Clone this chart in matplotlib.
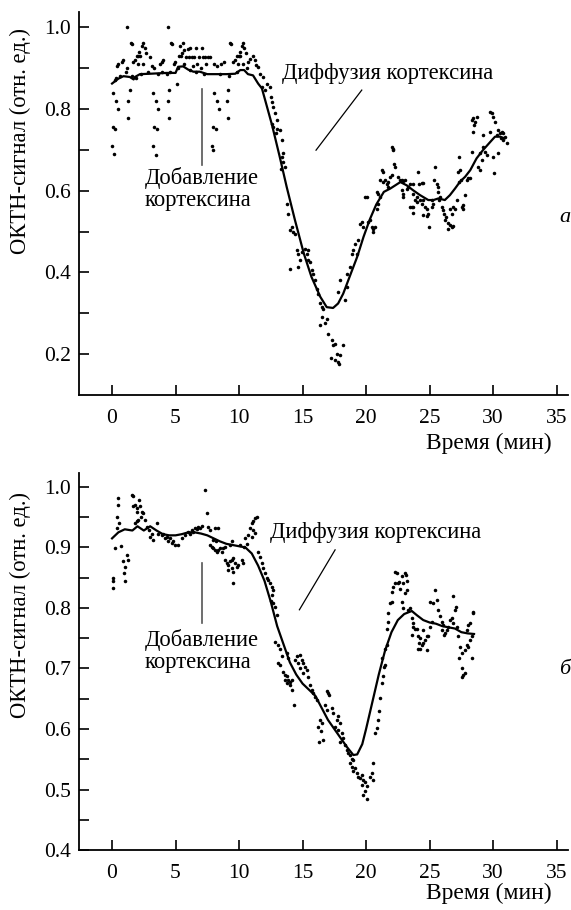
import numpy as np
import matplotlib
matplotlib.use("Agg")
import matplotlib.pyplot as plt

plt.rcParams['font.family'] = ['Liberation Serif', 'DejaVu Serif']

# ---- panel a: dots (time, min ; signal) ----
a_dots_plateau = [
    (0.0, 0.71), (0.15, 0.69), (0.05, 0.755), (0.25, 0.75), (0.1, 0.84), (0.3, 0.82), (0.5, 0.80),
    (0.4, 0.905), (0.5, 0.91), (0.75, 0.915), (0.9, 0.92), (0.6, 0.88), (0.2, 0.87), (0.35, 0.875),
    (1.15, 1.0), (1.28, 0.778), (1.26, 0.82), (1.4, 0.846), (1.47, 0.96), (1.55, 0.958), (1.68, 0.914),
    (1.8, 0.92), (1.1, 0.89), (1.2, 0.9), (1.6, 0.88),
    (1.95, 0.93), (2.08, 0.93), (2.2, 0.93), (2.16, 0.94), (2.34, 0.953), (2.4, 0.962), (2.6, 0.948),
    (2.7, 0.937), (2.08, 0.91), (2.47, 0.91), (1.9, 0.875), (2.3, 0.885), (2.8, 0.89),
    (3.0, 0.927), (3.13, 0.905), (3.3, 0.9), (3.25, 0.84), (3.47, 0.82), (3.65, 0.80), (3.3, 0.756),
    (3.5, 0.75), (3.25, 0.71), (3.45, 0.686), (3.74, 0.91), (3.9, 0.915), (4.0, 0.92), (3.6, 0.885), (3.9, 0.89),
    (4.38, 1.0), (4.45, 0.778), (4.4, 0.82), (4.5, 0.846), (4.66, 0.96), (4.74, 0.958), (4.84, 0.91),
    (4.97, 0.915), (4.3, 0.885), (4.6, 0.89), (5.14, 0.862),
    (5.26, 0.93), (5.4, 0.93), (5.5, 0.937), (5.63, 0.945), (5.58, 0.96), (5.37, 0.953), (5.84, 0.927),
    (6.03, 0.927), (5.95, 0.946), (6.16, 0.948), (5.2, 0.9), (5.7, 0.91), (6.1, 0.895),
    (6.29, 0.927), (6.47, 0.927), (6.63, 0.948), (6.82, 0.927), (7.08, 0.948), (7.16, 0.927), (7.34, 0.927),
    (7.53, 0.927), (7.74, 0.927), (6.4, 0.905), (6.7, 0.91), (7.0, 0.9), (7.4, 0.91), (6.6, 0.89), (7.2, 0.885),
    (8.06, 0.84), (8.24, 0.82), (8.43, 0.80), (7.98, 0.756), (8.19, 0.75), (7.9, 0.71), (7.95, 0.70),
    (8.0, 0.91), (8.3, 0.905), (8.6, 0.91), (8.8, 0.915), (8.5, 0.885),
    (9.1, 0.778), (9.15, 0.846), (9.07, 0.82), (9.3, 0.96), (9.4, 0.958), (9.5, 0.914), (9.7, 0.92), (9.2, 0.88),
    (9.85, 0.93), (10.0, 0.93), (10.1, 0.93), (10.05, 0.94), (10.2, 0.953), (10.3, 0.962), (10.4, 0.948),
    (10.55, 0.937), (9.9, 0.91), (10.3, 0.91), (9.8, 0.89), (10.6, 0.9),
]
a_dots_drop = [
    (10.74, 0.915), (10.87, 0.923), (11.08, 0.929), (11.26, 0.919), (11.34, 0.907), (11.52, 0.903),
    (11.65, 0.886), (11.92, 0.878), (11.79, 0.854), (12.05, 0.846), (12.18, 0.862), (12.44, 0.854),
    (12.49, 0.829), (12.57, 0.817), (12.7, 0.805), (12.84, 0.789), (12.97, 0.772), (12.57, 0.764),
    (12.7, 0.756), (13.02, 0.752), (13.23, 0.748), (12.91, 0.74), (13.36, 0.723), (13.49, 0.691),
    (13.36, 0.683), (13.44, 0.67), (13.62, 0.658), (13.28, 0.654), (13.75, 0.568), (13.89, 0.544),
    (14.02, 0.503), (14.23, 0.499), (14.15, 0.511), (14.41, 0.495), (14.54, 0.454), (14.67, 0.446),
    (14.94, 0.45), (15.2, 0.458), (15.33, 0.446), (15.46, 0.454), (14.8, 0.43), (14.67, 0.413),
    (14.02, 0.409), (15.46, 0.43), (15.59, 0.426), (15.72, 0.405), (15.85, 0.397), (15.99, 0.381),
    (16.12, 0.36), (16.25, 0.348), (16.38, 0.324), (16.51, 0.315), (16.64, 0.311), (16.51, 0.291),
    (16.38, 0.271), (16.77, 0.275), (16.9, 0.287), (17.04, 0.25), (17.3, 0.234), (17.43, 0.222),
    (17.56, 0.226), (17.69, 0.201), (17.95, 0.197), (17.82, 0.18), (17.56, 0.185), (17.9, 0.175),
    (17.2, 0.19), (18.22, 0.222), (17.82, 0.352), (17.95, 0.381), (18.48, 0.364), (18.35, 0.332),
    (18.53, 0.397), (18.74, 0.413), (18.87, 0.446), (19.0, 0.454), (19.14, 0.47), (19.27, 0.446),
    (19.4, 0.479), (19.53, 0.519), (19.66, 0.523), (19.79, 0.511), (19.92, 0.585), (20.05, 0.585),
    (20.18, 0.523), (20.32, 0.528),
]
a_dots_recovery = [
    (20.44, 0.511), (20.57, 0.507), (20.7, 0.511), (20.57, 0.5), (20.83, 0.556), (20.97, 0.568),
    (21.1, 0.585), (20.89, 0.597), (20.97, 0.593), (21.23, 0.65), (21.36, 0.646), (21.1, 0.626),
    (21.3, 0.622), (21.49, 0.626), (21.62, 0.617), (21.75, 0.622), (21.75, 0.609), (21.88, 0.634),
    (22.02, 0.638), (22.02, 0.707), (22.1, 0.703), (22.15, 0.699), (22.2, 0.666), (22.28, 0.658),
    (22.54, 0.634), (22.67, 0.626), (22.8, 0.626), (22.93, 0.624), (23.07, 0.626), (22.8, 0.601),
    (22.93, 0.593), (22.88, 0.585), (23.2, 0.605), (23.33, 0.609), (23.46, 0.617), (23.67, 0.617),
    (23.72, 0.593), (23.98, 0.585), (24.1, 0.646), (24.2, 0.617), (24.38, 0.619), (24.5, 0.619),
    (23.85, 0.577), (23.98, 0.573), (23.72, 0.56), (23.59, 0.56), (23.46, 0.56), (23.72, 0.546),
    (24.25, 0.577), (24.38, 0.568), (24.5, 0.577), (24.64, 0.56), (24.77, 0.556), (24.5, 0.54),
    (24.77, 0.538), (24.9, 0.544), (24.98, 0.511), (25.17, 0.56), (25.3, 0.568), (25.17, 0.577),
    (25.43, 0.658), (25.35, 0.626), (25.56, 0.617), (25.69, 0.609), (25.69, 0.597), (25.82, 0.585),
    (25.77, 0.577), (25.95, 0.56), (26.08, 0.552), (26.14, 0.544), (26.3, 0.536), (26.22, 0.528),
    (26.48, 0.521), (26.61, 0.516), (26.48, 0.507), (26.74, 0.511), (26.87, 0.513), (26.61, 0.556),
    (26.87, 0.56), (27.0, 0.556), (26.74, 0.544), (27.19, 0.577), (27.34, 0.622), (27.45, 0.626),
    (27.27, 0.646), (27.4, 0.65), (27.34, 0.683), (27.53, 0.56), (27.66, 0.564), (27.61, 0.554),
    (27.79, 0.589), (27.92, 0.626), (28.05, 0.63), (28.18, 0.632), (28.31, 0.695), (28.45, 0.744),
    (28.31, 0.772), (28.45, 0.777), (28.58, 0.768), (28.71, 0.781), (28.5, 0.76), (28.84, 0.658),
    (28.97, 0.65), (29.1, 0.674), (28.97, 0.691), (29.23, 0.707), (29.36, 0.695), (29.5, 0.687),
    (29.23, 0.736), (29.76, 0.744), (29.89, 0.789), (29.76, 0.793), (30.02, 0.781), (30.15, 0.768),
    (30.1, 0.642), (30.02, 0.683), (30.41, 0.748), (30.55, 0.74), (30.68, 0.744), (30.81, 0.74),
    (30.94, 0.732), (31.07, 0.717), (30.76, 0.724), (30.41, 0.691), (30.28, 0.736), (30.6, 0.73),
]
# panel a: smoothed curve
a_line_t = [0.0, 0.5, 0.9, 1.4, 1.7, 1.8, 2.2, 3.0, 4.3, 5.0, 5.2, 5.6, 6.0, 6.4, 6.9, 7.5,
            9.0, 9.7, 10.1, 10.4, 10.7, 11.1, 11.5, 11.8, 12.05, 12.6, 13.2, 13.75, 14.4, 15.1,
            15.7, 16.4, 16.9, 17.4, 17.8, 18.2, 18.7, 19.3, 19.8, 20.3, 20.8, 21.4, 21.9, 22.3,
            22.7, 23.2, 23.7, 24.25, 24.9, 25.3, 25.7, 26.2, 26.6, 27.0, 27.4, 27.8, 28.2, 28.7,
            29.2, 29.8, 30.15, 30.55, 30.9]
a_line_v = [0.862, 0.874, 0.88, 0.878, 0.872, 0.878, 0.885, 0.886, 0.888, 0.888, 0.903, 0.904,
            0.896, 0.891, 0.891, 0.885, 0.885, 0.886, 0.895, 0.895, 0.885, 0.882, 0.862, 0.85,
            0.822, 0.76, 0.683, 0.609, 0.528, 0.446, 0.389, 0.34, 0.315, 0.313, 0.324, 0.348,
            0.389, 0.438, 0.487, 0.53, 0.566, 0.597, 0.605, 0.613, 0.621, 0.613, 0.601, 0.589,
            0.577, 0.577, 0.581, 0.577, 0.589, 0.605, 0.622, 0.634, 0.65, 0.679, 0.699, 0.72,
            0.732, 0.732, 0.728]

# ---- panel b: dots ----
b_dots_plateau = [
    (0.1, 0.849), (0.05, 0.844), (0.1, 0.833), (0.24, 0.899), (0.68, 0.902), (0.37, 0.951), (0.5, 0.97),
    (0.5, 0.981), (0.58, 0.94), (0.37, 0.932), (0.84, 0.877), (1.02, 0.868), (1.15, 0.888), (1.29, 0.879),
    (0.94, 0.857), (1.02, 0.844), (1.55, 0.987), (1.63, 0.985), (1.68, 0.968), (1.81, 0.97), (1.94, 0.959),
    (2.0, 0.965), (2.15, 0.979), (2.2, 0.968), (2.33, 0.959), (2.47, 0.957), (2.26, 0.951), (1.81, 0.94),
    (1.94, 0.943), (2.07, 0.946), (2.6, 0.946), (2.73, 0.934), (2.94, 0.929), (3.12, 0.923), (3.25, 0.912),
    (2.99, 0.918), (3.52, 0.94), (3.65, 0.923), (3.91, 0.921), (4.17, 0.915), (4.44, 0.91), (4.7, 0.907),
    (4.96, 0.904), (5.22, 0.904), (4.04, 0.923), (4.3, 0.918), (4.57, 0.915), (4.83, 0.911), (5.49, 0.915),
    (5.75, 0.921), (6.0, 0.925), (6.27, 0.929), (6.53, 0.932), (6.8, 0.934), (7.06, 0.936), (6.14, 0.923),
    (6.4, 0.926), (6.67, 0.93), (6.93, 0.932), (7.32, 0.995), (7.45, 0.957), (7.58, 0.934), (7.72, 0.929),
    (8.11, 0.932), (8.37, 0.932), (7.72, 0.904), (7.85, 0.901), (7.98, 0.899), (8.11, 0.896), (8.24, 0.893),
    (8.37, 0.896), (8.5, 0.899), (8.64, 0.893), (8.77, 0.899), (8.9, 0.901), (7.98, 0.912), (8.19, 0.91),
    (8.9, 0.879), (9.03, 0.874), (9.16, 0.871), (9.29, 0.877), (9.42, 0.879), (9.55, 0.882), (9.68, 0.874),
    (9.82, 0.868), (9.95, 0.871), (9.42, 0.866), (9.16, 0.863), (9.55, 0.86), (9.5, 0.841), (9.42, 0.91),
    (9.29, 0.904), (10.08, 0.904),
]
b_dots_drop = [
    (11.0, 0.94), (10.87, 0.932), (11.13, 0.929), (10.74, 0.921), (11.0, 0.918), (11.26, 0.924),
    (10.47, 0.915), (10.21, 0.879), (10.34, 0.874), (11.26, 0.948), (11.39, 0.951), (11.13, 0.943),
    (10.6, 0.905), (10.4, 0.9), (11.52, 0.893), (11.65, 0.885), (11.79, 0.874), (11.92, 0.866),
    (12.05, 0.857), (12.18, 0.849), (12.31, 0.846), (12.44, 0.841), (12.57, 0.835), (12.7, 0.83),
    (12.57, 0.822), (12.49, 0.811), (12.7, 0.808), (12.84, 0.802), (12.97, 0.788), (12.84, 0.744),
    (13.1, 0.739), (13.23, 0.733), (13.36, 0.72), (13.1, 0.709), (13.23, 0.706), (13.75, 0.725),
    (13.89, 0.717), (13.49, 0.695), (13.62, 0.69), (13.75, 0.687), (13.89, 0.681), (14.02, 0.678),
    (14.15, 0.681), (13.62, 0.681), (13.75, 0.676), (14.02, 0.673), (14.15, 0.665), (14.41, 0.714),
    (14.54, 0.72), (14.8, 0.722), (14.94, 0.714), (15.07, 0.709), (15.2, 0.703), (15.33, 0.697),
    (15.46, 0.686), (14.67, 0.709), (14.8, 0.7), (15.07, 0.692), (14.33, 0.64), (15.59, 0.673),
    (15.72, 0.664), (15.85, 0.659), (15.99, 0.653), (16.12, 0.648), (16.9, 0.662), (17.04, 0.659),
    (17.11, 0.656), (16.38, 0.615), (16.51, 0.61), (16.25, 0.604), (16.43, 0.596), (16.33, 0.579),
    (16.64, 0.582), (16.77, 0.64), (16.9, 0.631), (17.3, 0.634), (17.43, 0.626), (17.69, 0.615),
    (17.82, 0.621), (17.95, 0.61), (17.56, 0.604), (17.82, 0.598), (18.09, 0.593), (18.22, 0.585),
    (17.95, 0.579), (18.35, 0.574), (18.48, 0.565), (18.61, 0.56), (18.74, 0.557), (18.87, 0.551),
    (19.0, 0.549), (18.74, 0.543), (18.87, 0.538), (19.13, 0.535), (19.0, 0.53), (19.27, 0.527),
    (19.4, 0.521), (19.53, 0.519), (19.66, 0.524), (19.79, 0.516), (19.92, 0.513), (19.66, 0.507),
    (20.05, 0.505), (19.92, 0.497), (19.79, 0.491), (20.05, 0.485), (20.32, 0.521), (20.45, 0.527),
    (20.58, 0.543), (20.53, 0.516),
]
b_dots_recovery = [
    (20.7, 0.593), (20.83, 0.601), (20.97, 0.615), (21.04, 0.629), (21.1, 0.651), (21.23, 0.676),
    (21.36, 0.687), (21.41, 0.703), (21.49, 0.706), (21.23, 0.717), (21.49, 0.733), (21.62, 0.739),
    (21.67, 0.766), (21.75, 0.777), (21.75, 0.791), (21.88, 0.808), (22.02, 0.81), (22.02, 0.827),
    (22.1, 0.835), (22.28, 0.841), (22.28, 0.86), (22.41, 0.857), (22.54, 0.841), (22.67, 0.832),
    (22.62, 0.843), (22.8, 0.852), (22.93, 0.841), (23.07, 0.857), (23.14, 0.855), (23.2, 0.844),
    (23.07, 0.824), (23.25, 0.83), (22.8, 0.81), (22.93, 0.8), (23.33, 0.797), (23.46, 0.8),
    (23.59, 0.783), (23.72, 0.775), (23.85, 0.766), (23.67, 0.769), (23.98, 0.766), (23.59, 0.755),
    (24.12, 0.753), (24.25, 0.75), (24.19, 0.742), (24.38, 0.739), (24.25, 0.733), (24.12, 0.733),
    (24.51, 0.742), (24.64, 0.747), (24.77, 0.753), (24.9, 0.753), (24.77, 0.731), (24.51, 0.764),
    (25.03, 0.769), (25.17, 0.777), (25.03, 0.81), (25.3, 0.808), (25.43, 0.83), (25.56, 0.813),
    (25.69, 0.797), (25.82, 0.786), (25.95, 0.777), (26.08, 0.772), (26.22, 0.758), (25.95, 0.764),
    (26.14, 0.755), (26.35, 0.764), (26.48, 0.769), (26.61, 0.78), (26.74, 0.783), (26.87, 0.775),
    (27.0, 0.797), (27.08, 0.802), (26.87, 0.819), (27.13, 0.769), (27.27, 0.753), (27.4, 0.736),
    (27.53, 0.725), (27.34, 0.717), (27.53, 0.7), (27.53, 0.686), (27.66, 0.689), (27.79, 0.692),
    (27.79, 0.731), (27.92, 0.739), (28.05, 0.736), (28.18, 0.747), (28.31, 0.717), (27.92, 0.764),
    (28.05, 0.772), (28.18, 0.775), (28.39, 0.794), (28.45, 0.791), (28.31, 0.753),
]
# panel b: smoothed curve
b_line_t = [0.0, 0.5, 1.0, 1.6, 2.0, 2.5, 3.0, 3.5, 4.0, 4.5, 5.0, 5.5, 6.0, 6.5, 7.0, 7.5,
            8.0, 8.5, 9.0, 9.5, 10.0, 10.5, 11.0, 11.5, 12.0, 12.5, 13.0, 13.5, 14.0, 14.5,
            15.0, 15.5, 16.0, 16.5, 17.0, 17.5, 18.0, 18.5, 19.0, 19.3, 19.7, 20.0, 20.5, 21.0,
            21.5, 22.0, 22.5, 23.0, 23.6, 24.0, 24.5, 25.0, 25.5, 26.0, 26.5, 27.0, 27.5, 28.0, 28.5]
b_line_v = [0.915, 0.925, 0.93, 0.928, 0.935, 0.928, 0.935, 0.928, 0.922, 0.92, 0.92, 0.922,
            0.925, 0.925, 0.923, 0.92, 0.915, 0.91, 0.906, 0.904, 0.902, 0.9, 0.89, 0.87, 0.845,
            0.81, 0.77, 0.74, 0.71, 0.69, 0.675, 0.665, 0.655, 0.635, 0.615, 0.6, 0.585, 0.57,
            0.557, 0.558, 0.575, 0.6, 0.645, 0.69, 0.73, 0.76, 0.78, 0.79, 0.795, 0.788, 0.78,
            0.776, 0.774, 0.77, 0.768, 0.766, 0.76, 0.758, 0.757]

x_ticks = [0, 5, 10, 15, 20, 25, 30, 35]
a_y_major = [0.2, 0.4, 0.6, 0.8, 1.0]
a_y_minor = [0.3, 0.5, 0.7, 0.9]
b_y_major = [0.4, 0.5, 0.6, 0.7, 0.8, 0.9, 1.0]
b_y_minor = [0.45, 0.55, 0.65, 0.75, 0.85, 0.95]

fig = plt.figure(figsize=(5.71, 9.10), dpi=100)
ax_a = fig.add_axes([0.1384, 0.5659, 0.8564, 0.4209])
ax_b = fig.add_axes([0.1384, 0.0659, 0.8564, 0.4143])


def style(ax, ylim, major, minor):
    for s in ['top', 'right']:
        ax.spines[s].set_visible(False)
    for s in ['left', 'bottom']:
        ax.spines[s].set_linewidth(1.3)
    ax.set_xlim(-2.6, 35.9)
    ax.set_xticks(x_ticks)
    ax.set_ylim(*ylim)
    ax.set_yticks(major)
    ax.set_yticks(minor, minor=True)
    ax.set_yticklabels([f"{v:.1f}" for v in major])
    ax.tick_params(which='both', direction='in', length=7, width=1.2, labelsize=15.5)
    ax.tick_params(axis='y', pad=6)
    ax.tick_params(axis='x', pad=10)


def draw(ax, groups, lt, lv):
    for g in groups:
        d = np.array(g)
        ax.scatter(d[:, 0], d[:, 1], s=6.5, color='black', linewidths=0)
    ax.plot(lt, lv, color='black', lw=1.6)


draw(ax_a, [a_dots_plateau, a_dots_drop, a_dots_recovery], a_line_t, a_line_v)
draw(ax_b, [b_dots_plateau, b_dots_drop, b_dots_recovery], b_line_t, b_line_v)
style(ax_a, (0.1, 1.037), a_y_major, a_y_minor)
style(ax_b, (0.4, 1.023), b_y_major, b_y_minor)

# annotations panel a
ax_a.plot([7.06, 7.06], [0.848, 0.662], color='#555555', lw=1.2)
ax_a.text(2.6, 0.604, "Добавление\nкортексина", fontsize=16.3, va='center', ha='left', linespacing=1.1)
ax_a.plot([19.66, 16.06], [0.846, 0.699], color='black', lw=0.9)
ax_a.text(13.36, 0.887, "Диффузия кортексина", fontsize=16.3, va='center', ha='left')

# annotations panel b
ax_b.plot([7.06, 7.06], [0.874, 0.775], color='#555555', lw=1.2)
ax_b.text(2.6, 0.729, "Добавление\nкортексина", fontsize=16.3, va='center', ha='left', linespacing=1.1)
ax_b.plot([17.56, 14.75], [0.896, 0.797], color='black', lw=0.9)
ax_b.text(12.44, 0.924, "Диффузия кортексина", fontsize=16.3, va='center', ha='left')

fig.text(0.9667, 1 - 443 / 910, "Время (мин)", fontsize=17, ha='right', va='center')
fig.text(0.9667, 1 - 893 / 910, "Время (мин)", fontsize=17, ha='right', va='center')
fig.text(20 / 571, 1 - 141 / 910, "ОКТН-сигнал (отн. ед.)", fontsize=16.3, rotation=90, ha='center', va='center')
fig.text(20 / 571, 1 - 605 / 910, "ОКТН-сигнал (отн. ед.)", fontsize=16.3, rotation=90, ha='center', va='center')
fig.text(565 / 571, 1 - 217 / 910, "а", fontsize=16, style='italic', ha='center', va='center')
fig.text(565 / 571, 1 - 670 / 910, "б", fontsize=16, style='italic', ha='center', va='center')

fig.savefig("out.png", dpi=100)
